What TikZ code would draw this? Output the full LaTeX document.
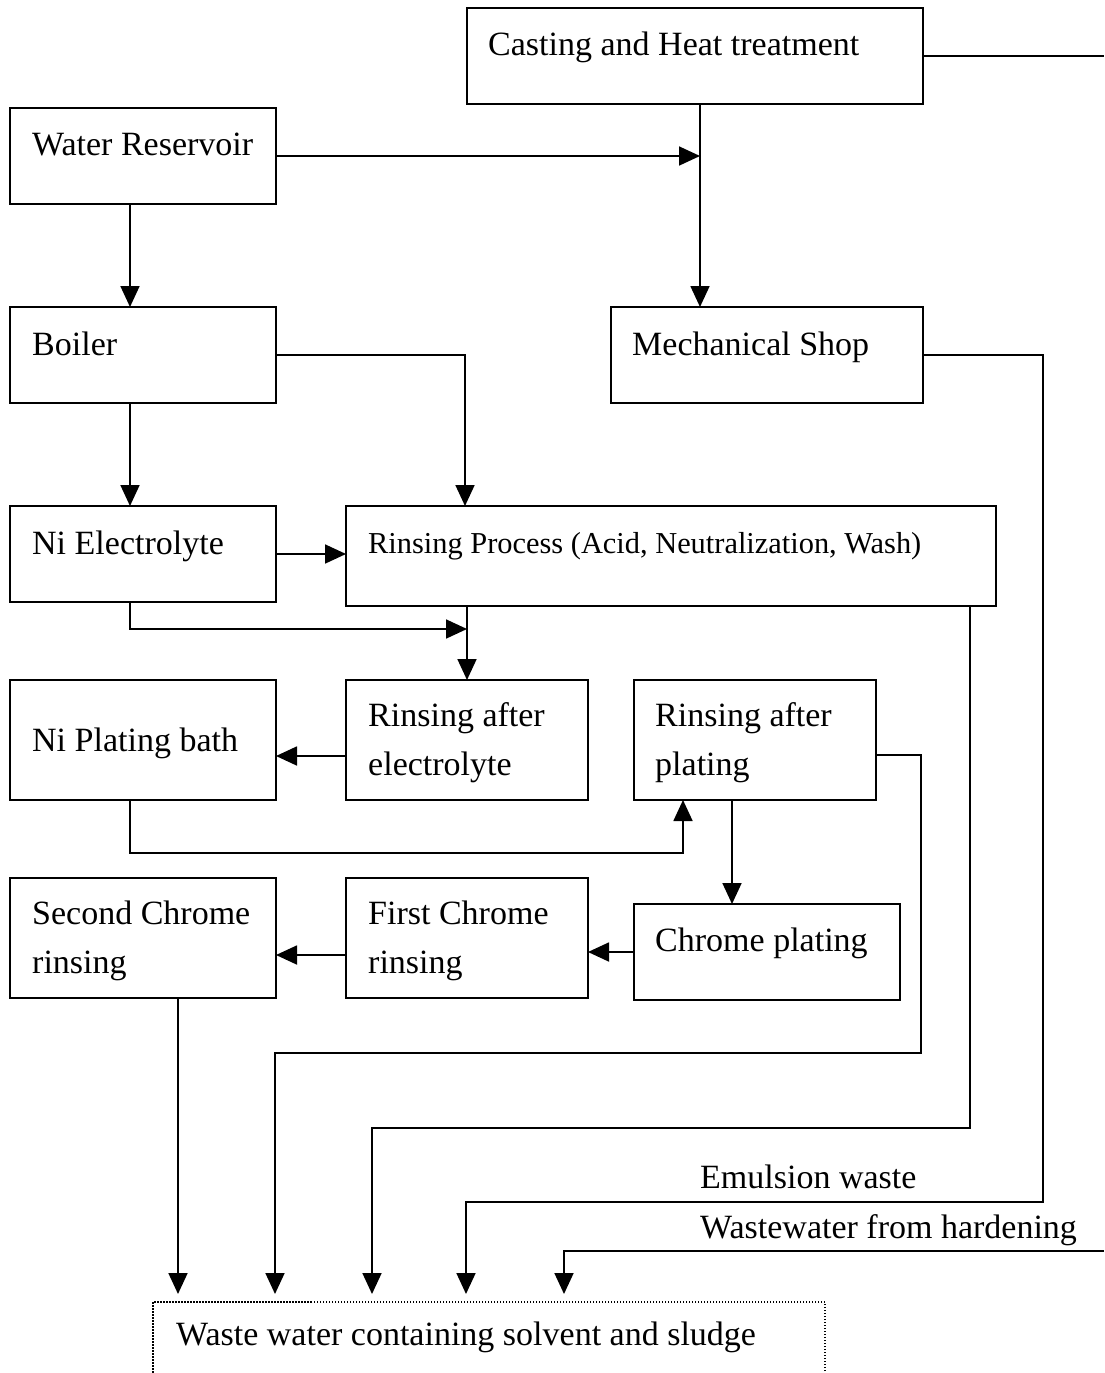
\documentclass[tikz,border=0pt]{standalone}
\usepackage{fontspec}
\setmainfont{Liberation Serif}
\usetikzlibrary{arrows.meta,calc}
\tikzset{
  blk/.style={draw, line width=1.6pt, rectangle, inner sep=0pt, outer sep=0pt, anchor=north west},
  txt/.style={anchor=base west, inner sep=0pt, font=\fontsize{34}{40}\selectfont},
  smalltxt/.style={txt, font=\fontsize{30.4}{35}\selectfont},
  pipe/.style={line width=1.8pt},
  flow/.style={pipe, -{Triangle[length=21pt,width=19pt]}},
  sink/.style={draw, line width=1.5pt, dash pattern=on 1.5pt off 1.5pt, rectangle, inner sep=0pt, outer sep=0pt, anchor=north west},
}
\begin{document}
\begin{tikzpicture}[x=1pt,y=-1pt]
\useasboundingbox (0,0) rectangle (1104,1373);
\clip (0,0) rectangle (1104,1373);

% process blocks
\node[blk, minimum width=456pt, minimum height=96pt] (cast) at (467,8) {};
\node[txt] (castT) at (488,55) {Casting and Heat treatment};
\node[blk, minimum width=266pt, minimum height=96pt] (wr) at (10,108) {};
\node[txt] (wrT) at (32,155) {Water Reservoir};
\node[blk, minimum width=266pt, minimum height=96pt] (boil) at (10,307) {};
\node[txt] (boilT) at (32,355) {Boiler};
\node[blk, minimum width=312pt, minimum height=96pt] (mech) at (611,307) {};
\node[txt] (mechT) at (632,355) {Mechanical Shop};
\node[blk, minimum width=266pt, minimum height=96pt] (nie) at (10,506) {};
\node[txt] (nieT) at (32,554) {Ni Electrolyte};
\node[blk, minimum width=650pt, minimum height=100pt] (rp) at (346,506) {};
\node[smalltxt] (rpT) at (368,553) {Rinsing Process (Acid, Neutralization, Wash)};
\node[blk, minimum width=242pt, minimum height=120pt] (rae) at (346,680) {};
\node[txt] (raeT1) at (368,726) {Rinsing after};
\node[txt] (raeT2) at (368,775) {electrolyte};
\node[blk, minimum width=266pt, minimum height=120pt] (npb) at (10,680) {};
\node[txt] (npbT) at (32,751) {Ni Plating bath};
\node[blk, minimum width=242pt, minimum height=120pt] (rap) at (634,680) {};
\node[txt] (rapT1) at (655,726) {Rinsing after};
\node[txt] (rapT2) at (655,775) {plating};
\node[blk, minimum width=266pt, minimum height=120pt] (scr) at (10,878) {};
\node[txt] (scrT1) at (32,924) {Second Chrome};
\node[txt] (scrT2) at (32,973) {rinsing};
\node[blk, minimum width=242pt, minimum height=120pt] (fcr) at (346,878) {};
\node[txt] (fcrT1) at (368,924) {First Chrome};
\node[txt] (fcrT2) at (368,973) {rinsing};
\node[blk, minimum width=266pt, minimum height=96pt] (cp) at (634,904) {};
\node[txt] (cpT) at (655,951) {Chrome plating};
\node[sink, minimum width=672pt, minimum height=120pt] (waste) at (153,1302) {};
\node[txt] (wasteT) at (176,1345) {Waste water containing solvent and sludge};

% stream labels
\node[txt] (emT) at (700,1188) {Emulsion waste};
\node[txt] (hdT) at (700,1238) {Wastewater from hardening};

% junctions and inlets
\coordinate (castdrop) at ([xshift=5pt]cast.south);
\coordinate (castout) at (1104,56);
\coordinate (j2) at (rae.north |- 0,629);
\coordinate (r1) at (921,1053);
\coordinate (r2) at (970,1128);
\coordinate (r3) at (1043,1202);
\coordinate (hin) at (1104,1251);
\coordinate (in1) at ($(waste.north west)+(25,-8)$);
\coordinate (in2) at ($(waste.north west)+(122,-8)$);
\coordinate (in3) at ($(waste.north west)+(219,-8)$);
\coordinate (in4) at ($(waste.north west)+(313,-8)$);
\coordinate (in5) at ($(waste.north west)+(411,-8)$);

% water supply
\draw[pipe] (cast.east) -- (castout);
\draw[flow] (wr.east) -- (wr.east -| castdrop);
\draw[flow] (castdrop) -- (castdrop |- mech.north);
\draw[flow] ([xshift=-13pt]wr.south) -- ([xshift=-13pt]wr.south |- boil.north);
\draw[flow] (boil.east) -| ([xshift=119pt]rp.north west);
\draw[flow] ([xshift=-13pt]boil.south) -- ([xshift=-13pt]boil.south |- nie.north);
\draw[flow] (nie.east) -- (nie.east -| rp.west);
\draw[flow] ([xshift=-13pt]nie.south) |- (j2);
\draw[flow] (rae.north |- rp.south) -- (rae.north);
\draw[flow] ([yshift=-16pt]rae.west) -- ([yshift=-16pt]rae.west -| npb.east);
\draw[flow] ([xshift=-13pt]npb.south) -- ++(0,53) -| ([xshift=-72pt]rap.south);
\draw[flow] ([xshift=-23pt]rap.south) -- ([xshift=-23pt]rap.south |- cp.north);
\draw[flow] (cp.west) -- (cp.west -| fcr.east);
\draw[flow] ([yshift=-17pt]fcr.west) -- ([yshift=-17pt]fcr.west -| scr.east);

% discharges
\draw[flow] ([xshift=35pt]scr.south) -- (in1);
\draw[flow] ([yshift=-15pt]rap.east) -| (r1) -| (in2);
\draw[flow] ([xshift=-26pt]rp.south east) |- (r2) -| (in3);
\draw[flow] (mech.east) -| (r3) -| (in4);
\draw[flow] (hin) -| (in5);
\end{tikzpicture}
\end{document}
